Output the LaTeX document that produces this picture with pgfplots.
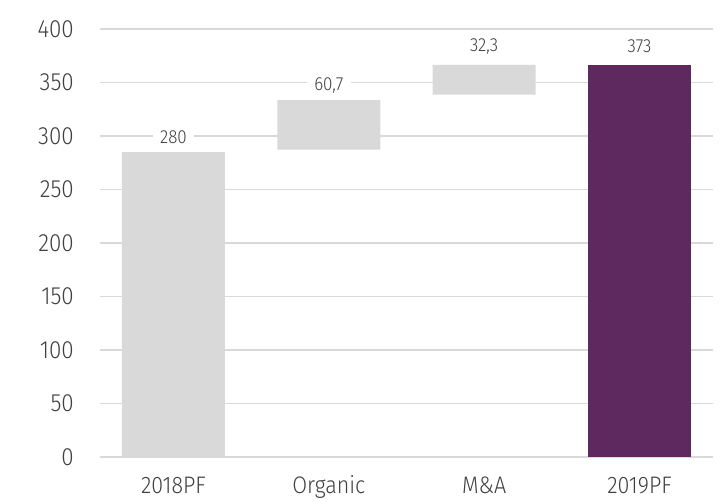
\documentclass[border=0pt]{standalone}
\usepackage{pgfplots}
\pgfplotsset{compat=1.18}
\usepackage{fontspec}
\setmainfont{Fira Sans Light}[FakeStretch=0.9]
\definecolor{bargray}{HTML}{D9D9D9}
\definecolor{gridgray}{HTML}{D9D9D9}
\definecolor{barpurple}{HTML}{5E295E}
\definecolor{txt}{HTML}{404040}
\begin{document}
\begin{tikzpicture}
\path[use as bounding box] (-100bp,-45bp) rectangle (625bp,457bp);
\begin{axis}[
  at={(0,0)}, anchor=south west,
  scale only axis, width=613bp, height=428bp,
  xmin=-0.473, xmax=3.473, ymin=0, ymax=400,
  clip=false,
  ybar stacked, bar width=103bp,
  axis line style={draw=none},
  major tick length=0pt,
  ymajorgrids, grid style={color=gridgray, line width=1.2bp},
  ytick={0,50,...,400},
  xtick={0,1,2,3},
  xticklabels={2018PF,Organic,M\&A,2019PF},
  /pgf/number format/assume math mode=true,
  /pgf/number format/use comma,
  /pgf/number format/1000 sep={},
  tick label style={font=\fontsize{25}{25}\selectfont, text=txt},
  yticklabel style={anchor=east, inner sep=0pt, xshift=-26bp},
  xticklabel style={anchor=base, inner sep=0pt, yshift=-37bp, font=\fontsize{24}{24}\selectfont},
]
% invisible base
\addplot[fill=none, draw=none] coordinates {(0,0) (1,287.2) (2,338.6) (3,0)};
% grey bars
\addplot[fill=bargray, draw=none] coordinates {(0,285) (1,46.4) (2,27.8) (3,0)};
% purple bar
\addplot[fill=barpurple, draw=none] coordinates {(0,0) (1,0) (2,0) (3,366.4)};
% invisible spacer carrying the labels (label sits at the middle of it)
\addplot[fill=none, draw=none, point meta=explicit,
  nodes near coords,
  every node near coord/.style={anchor=center, fill=white, inner xsep=7.5bp, inner ysep=2bp,
    font=\fontsize{19}{19}\selectfont, text=txt,
    /pgf/number format/fixed, /pgf/number format/precision=1,
    /pgf/number format/use comma, /pgf/number format/assume math mode=true}]
  coordinates {(0,28.4) [280] (1,27.2) [60.7] (2,34.4) [32.3] (3,34.4) [373]};
\end{axis}
\end{tikzpicture}
\end{document}
